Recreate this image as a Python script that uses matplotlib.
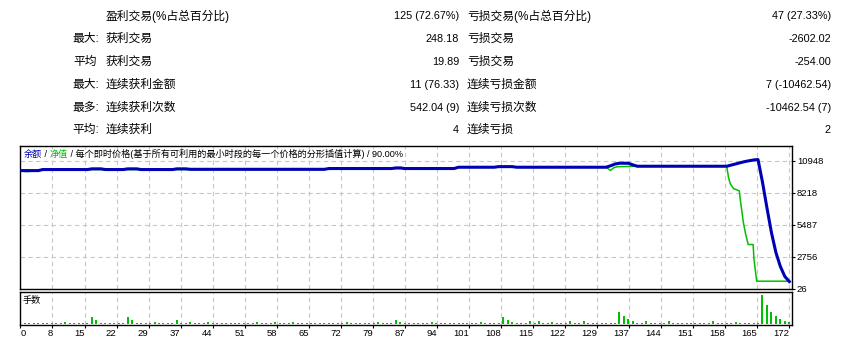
import matplotlib
matplotlib.use("Agg")
import matplotlib.pyplot as plt
import numpy as np
from matplotlib.offsetbox import TextArea, HPacker, AnchoredOffsetbox

plt.rcParams["font.family"] = ["Liberation Sans", "Noto Sans CJK SC"]

# summary table (tester report)
row_marks = ["", "最大:", "平均", "最大:", "最多:", "平均:"]
win_labels = ["盈利交易(%占总百分比)", "获利交易", "获利交易", "连续获利金额", "连续获利次数", "连续获利"]
win_values = ["125 (72.67%)", "248.18", "19.89", "11 (76.33)", "542.04 (9)", "4"]
loss_labels = ["亏损交易(%占总百分比)", "亏损交易", "亏损交易", "连续亏损金额", "连续亏损次数", "连续亏损"]
loss_values = ["47 (27.33%)", "-2602.02", "-254.00", "7 (-10462.54)", "-10462.54 (7)", "2"]

# balance curve: trade number -> balance
balance_x = [0, 4, 5, 15, 16, 18, 19, 23, 24, 26, 27, 34, 35, 37, 38, 68, 69, 83, 84, 85, 86,
             97, 98, 106, 107, 110, 111, 131, 132, 133, 134, 136, 137, 138, 158, 159, 160,
             161, 162, 163, 164, 165, 166, 167, 168, 169, 170, 171, 172]
balance_y = [10090, 10090, 10180, 10180, 10240, 10240, 10180, 10180, 10240, 10240, 10180,
             10180, 10240, 10240, 10200, 10200, 10266, 10266, 10320, 10320, 10266, 10266,
             10377, 10377, 10430, 10430, 10377, 10377, 10500, 10650, 10718, 10718, 10580,
             10462, 10462, 10560, 10660, 10760, 10856, 10930, 11000, 11034, 9100, 6900,
             4800, 3100, 1900, 1050, 620]

# equity curve
equity_x = [0, 1, 2, 3, 4, 5, 68, 69, 97, 98, 131, 132, 132.7, 133.5, 138, 158, 158.4,
            158.8, 159.5, 160.8, 161.1, 161.7, 162.2, 162.8, 163.9, 164.1, 164.7, 172]
equity_y = [10090, 10010, 10010, 10090, 10090, 10180, 10180, 10266, 10266, 10377, 10377,
            10100, 10330, 10420, 10462, 10462, 9500, 8955, 8560, 8360, 7420, 5714, 4717,
            3781, 3781, 2500, 649, 649]

# lots per trade (0.01 unless listed)
n_trades = 172
lot_trades = [10, 16, 17, 24, 25, 30, 35, 38, 42, 53, 57, 61, 73, 80, 84, 85, 92, 103, 108,
              109, 110, 114, 116, 119, 123, 126, 134, 135, 136, 137, 140, 145, 155, 160,
              166, 167, 168, 169, 170, 171, 172]
lot_sizes = [0.02, 0.07, 0.04, 0.07, 0.04, 0.02, 0.04, 0.02, 0.02, 0.02, 0.02, 0.02, 0.02,
             0.02, 0.04, 0.02, 0.02, 0.02, 0.07, 0.04, 0.02, 0.03, 0.03, 0.02, 0.03, 0.03,
             0.12, 0.08, 0.05, 0.03, 0.03, 0.03, 0.03, 0.02, 0.29, 0.19, 0.12, 0.08, 0.05,
             0.03, 0.02]

x_labels = ["0", "8", "15", "22", "29", "37", "44", "51", "58", "65", "72", "79", "87", "94",
            "101", "108", "115", "122", "129", "137", "144", "151", "158", "165", "172"]
y_ticks = [26, 2756, 5487, 8218, 10948]

trades = np.arange(1, n_trades + 1)
lots = np.full(n_trades, 0.01)
lots[np.array(lot_trades) - 1] = lot_sizes

W, H = 853, 342
fig = plt.figure(figsize=(W / 100, H / 100), dpi=100)

# ---- summary text
row_y = [16, 39, 62, 85, 108, 130]
zh = ["Liberation Sans", "Noto Sans CJK SC"]
for i, y in enumerate(row_y):
    fy = 1 - y / H
    fig.text((99 if row_marks[i] != "平均" else 97) / W, fy, row_marks[i], ha="right",
             va="center", fontsize=8.5, family=zh)
    fig.text(106 / W, fy, win_labels[i], ha="left", va="center", fontsize=8.5, family=zh)
    fig.text(459 / W, fy, win_values[i], ha="right", va="center", fontsize=7.8)
    fig.text(467 / W, fy, loss_labels[i], ha="left", va="center", fontsize=8.5, family=zh)
    fig.text(831 / W, fy, loss_values[i], ha="right", va="center", fontsize=7.8)

blue = "#0000b4"
green = "#00c000"
grid_kw = dict(color="#c8c8c8", linestyle=(0, (4, 3)), linewidth=0.8)
xmin, xmax = -0.1, 172.6
xtick_pos = np.arange(0, 25) * 172 / 24

# ---- balance / equity panel
ax = fig.add_axes([20 / W, 1 - 288.5 / H, 772 / W, 142.5 / H])
ax.plot(equity_x, equity_y, color=green, lw=1.1, zorder=3)
ax.plot(balance_x, balance_y, color=blue, lw=2.2, zorder=4)
ax.set_xlim(xmin, xmax)
ax.set_ylim(26, 12190)
ax.set_xticks(xtick_pos)
ax.tick_params(axis="x", length=0, labelbottom=False)
ax.yaxis.tick_right()
ax.set_yticks(y_ticks)
ax.set_yticklabels([str(v) for v in y_ticks])
ax.tick_params(axis="y", length=2, pad=1.5, labelsize=6.8, width=0.8)
ax.grid(True, **grid_kw)
ax.set_axisbelow(True)
for s in ax.spines.values():
    s.set_linewidth(1.0)

parts = [("余额", blue), (" / ", "black"), ("净值", green),
         (" / 每个即时价格(基于所有可利用的最小时段的每一个价格的分形插值计算) / 90.00%", "black")]
boxes = [TextArea(t, textprops=dict(color=c, fontsize=6.6, family=zh)) for t, c in parts]
title = AnchoredOffsetbox(loc="upper left", child=HPacker(children=boxes, pad=0, sep=0),
                          pad=0, borderpad=0, frameon=False,
                          bbox_to_anchor=(4 / 772, 1 - 3 / 142.5), bbox_transform=ax.transAxes)
ax.add_artist(title)

# ---- lots panel
ax2 = fig.add_axes([20 / W, 1 - 324.5 / H, 772 / W, 33 / H])
ax2.vlines(trades, 0, lots, color=green, lw=1.4, antialiased=False)
ax2.set_xlim(xmin, xmax)
ax2.set_ylim(-0.008, 0.325)
ax2.set_yticks([])
ax2.set_xticks(xtick_pos)
ax2.set_xticklabels(x_labels)
ax2.tick_params(axis="x", length=2, pad=1.5, labelsize=6.8, width=0.8)
for i, lab in enumerate(ax2.get_xticklabels()):
    lab.set_ha("left" if i == 0 else "right")
ax2.grid(True, axis="x", **grid_kw)
ax2.set_axisbelow(True)
for s in ax2.spines.values():
    s.set_linewidth(1.0)
ax2.text(3 / 772, 0.72, "手数", transform=ax2.transAxes, ha="left", va="center",
         fontsize=6.6, family=zh)

fig.savefig("out.png", dpi=100)
